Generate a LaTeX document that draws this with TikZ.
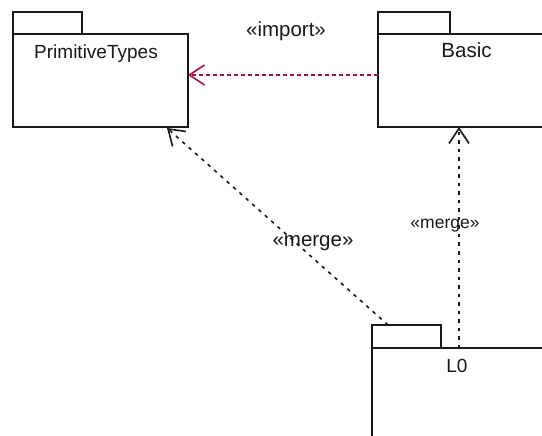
\documentclass[tikz,border=0pt]{standalone}
\usepackage{fontspec}
\setmainfont{Liberation Sans}
\usetikzlibrary{arrows.meta}
\definecolor{imp}{RGB}{170,20,70}
\definecolor{ln}{RGB}{25,25,25}
\begin{document}
\begin{tikzpicture}[x=1pt,y=-1pt,
  pkg/.style={draw=ln,line width=1.4pt,fill=white,inner sep=0pt,outer sep=0pt,anchor=north west},
  lbl/.style={font=\fontsize{19}{22}\selectfont,text=ln,anchor=base,inner sep=0pt},
  wlbl/.style={font=\fontsize{20.5}{24}\selectfont,text=ln,anchor=base,inner sep=0pt},
  slbl/.style={font=\fontsize{17.5}{20}\selectfont,text=ln,anchor=base,inner sep=0pt},
  head/.style={-{Straight Barb[length=15pt,width=20pt,line width=1.6pt]}},
  impline/.style={draw=imp,line width=1.5pt,dash pattern=on 4pt off 3pt,head},
  mrgline/.style={draw=ln,line width=1.6pt,dash pattern=on 3.5pt off 5pt,head}]
\clip (0,0) rectangle (542,436);
\fill[white] (0,0) rectangle (542,436);
% PrimitiveTypes
\node[pkg,minimum width=69pt,minimum height=22pt] (pttab) at (13,12) {};
\node[pkg,minimum width=175pt,minimum height=93pt] (ptbody) at (13,34) {};
\node[lbl] (ptname) at (96,59) {PrimitiveTypes};
% Basic
\node[pkg,minimum width=72pt,minimum height=22pt] (btab) at (378,12) {};
\node[pkg,minimum width=176pt,minimum height=93pt] (bbody) at (378,34) {};
\node[wlbl] (bname) at (466.5,58) {Basic};
% L0
\node[pkg,minimum width=69pt,minimum height=23pt] (ltab) at (372,325) {};
\node[pkg,minimum width=178pt,minimum height=120pt] (lbody) at (372,348) {};
\node[lbl] (lname) at (457,372) {L0};
% import
\draw[impline] ([yshift=5.5pt]bbody.west) -- ([yshift=5.5pt]ptbody.east);
\node[wlbl] (implbl) at (286,37) {«import»};
% merge to PrimitiveTypes
\draw[mrgline] ([xshift=16pt]ltab.north west) -- ([xshift=66.5pt,yshift=-1pt]ptbody.south);
\node[wlbl] (m1lbl) at (313,247) {«merge»};
% merge to Basic
\draw[mrgline] ([xshift=87pt]lbody.north west) -- ([xshift=81pt]bbody.south west);
\node[slbl] (m2lbl) at (445,229) {«merge»};
\end{tikzpicture}
\end{document}
